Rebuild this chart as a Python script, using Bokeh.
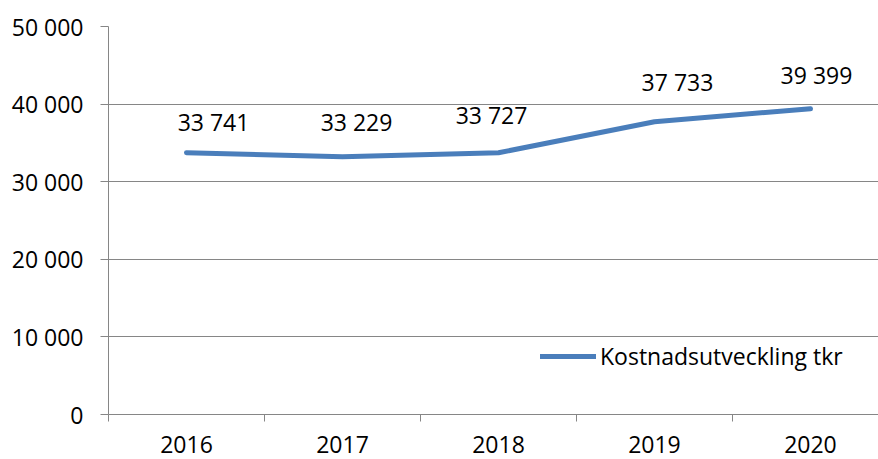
from bokeh.plotting import figure
from bokeh.models import (ColumnDataSource, FixedTicker, LabelSet, Legend, LegendItem)
from bokeh.core.properties import value
from bokeh.embed import file_html
from bokeh.resources import INLINE

# ---- data ----
years = ["2016", "2017", "2018", "2019", "2020"]
costs = [33741, 33229, 33727, 37733, 39399]
series_name = "Kostnadsutveckling tkr"
y_ticks = [0, 10000, 20000, 30000, 40000, 50000]
y_tick_labels = ["0", "10 000", "20 000", "30 000", "40 000", "50 000"]

# label pixel offsets (styling)
label_dx = [27, 14, -7, 23, 6]
label_dy = [31, 35, 38, 40, 34]

FONT = "Open Sans"
FS = "23px"
GRID = "#868686"
LINE = "#4A7EBB"

xpos = list(range(1, len(years) + 1))
src = ColumnDataSource(dict(
    x=xpos, y=costs,
    txt=[f"{v:,}".replace(",", " ") for v in costs],
    dx=label_dx, dy=label_dy,
))

p = figure(width=878, height=459, output_backend="svg", toolbar_location=None,
           x_range=(0.5, 5.436), y_range=(0, 50000),
           min_border_left=108, min_border_right=0, min_border_top=26,
           min_border_bottom=45)
p.outline_line_color = None
p.background_fill_color = "white"
p.border_fill_color = "white"

r = p.line("x", "y", source=src, line_color=LINE, line_width=5,
           line_cap="round", line_join="round")

labels = LabelSet(x="x", y="y", text="txt", source=src, x_offset="dx", y_offset="dy",
                  text_align="center", text_baseline="middle",
                  text_font=value(FONT), text_font_size=value(FS), text_color="black")
p.add_layout(labels)

# axes
p.xgrid.visible = False
p.ygrid.grid_line_color = GRID
p.ygrid.grid_line_width = 1

p.yaxis.ticker = FixedTicker(ticks=y_ticks, minor_ticks=[])
p.yaxis.major_label_overrides = {t: l for t, l in zip(y_ticks, y_tick_labels)}
p.yaxis.axis_line_color = GRID
p.yaxis.major_tick_line_color = GRID
p.yaxis.major_tick_out = 8
p.yaxis.major_tick_in = 0
p.yaxis.minor_tick_line_color = None
p.yaxis.major_label_standoff = 17
p.yaxis.major_label_text_font = FONT
p.yaxis.major_label_text_font_size = FS
p.yaxis.major_label_text_color = "black"

p.xaxis.ticker = FixedTicker(ticks=xpos, minor_ticks=[i + 0.5 for i in range(0, len(years) + 1)])
p.xaxis.major_label_overrides = {x: y for x, y in zip(xpos, years)}
p.xaxis.axis_line_color = GRID
p.xaxis.major_tick_line_color = None
p.xaxis.major_tick_out = 0
p.xaxis.major_tick_in = 0
p.xaxis.minor_tick_line_color = GRID
p.xaxis.minor_tick_out = 7
p.xaxis.minor_tick_in = 0
p.xaxis.major_label_standoff = 14
p.xaxis.major_label_text_font = FONT
p.xaxis.major_label_text_font_size = FS
p.xaxis.major_label_text_color = "black"

legend = Legend(items=[LegendItem(label=series_name, renderers=[r])],
                location=(432, 42), orientation="vertical",
                border_line_color=None, background_fill_alpha=0,
                padding=0, margin=0, spacing=0,
                glyph_width=56, glyph_height=20, label_standoff=4,
                label_text_font=FONT, label_text_font_size=FS,
                label_text_color="black")
p.add_layout(legend)

open("out.html", "w").write(file_html(p, INLINE))
